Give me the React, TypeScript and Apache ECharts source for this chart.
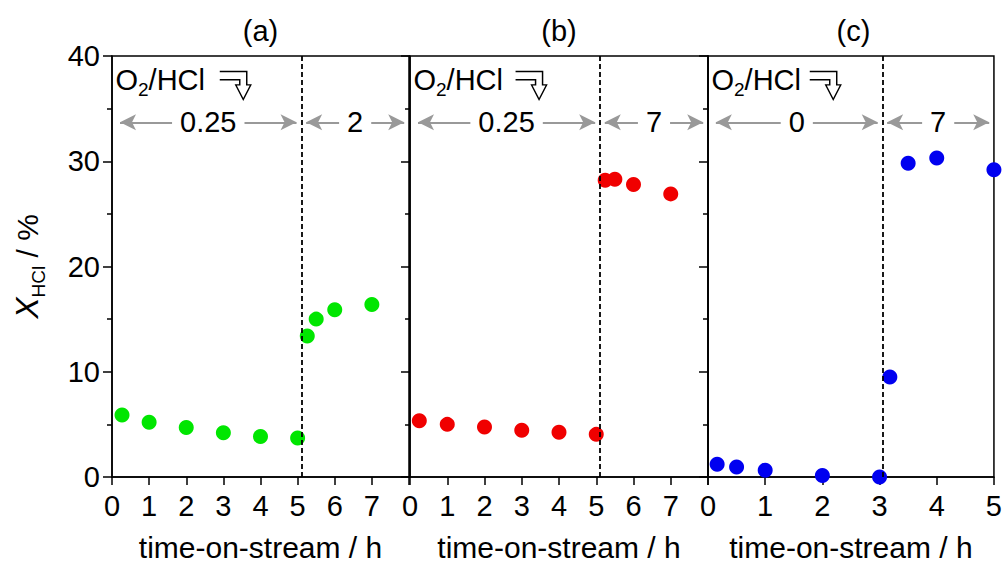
import React, { useEffect, useRef } from 'react';
import * as echarts from 'echarts';

// ---- data ----
const panelTitles = ['(a)', '(b)', '(c)'];
const xMaxes = [8, 8, 5];
const switchTimes = [5.1, 5.1, 3.05];
const ratioBefore = ['0.25', '0.25', '0'];
const ratioAfter = ['2', '7', '7'];
const yTickMax = 40;
const yTickStep = 10;

const timeA = [0.27, 1, 2, 3, 4, 5, 5.26, 5.5, 6, 7];
const convA = [5.9, 5.2, 4.7, 4.2, 3.85, 3.7, 13.4, 15.0, 15.9, 16.4];

const timeB = [0.25, 1, 2, 3, 4, 5, 5.24, 5.5, 6, 7];
const convB = [5.35, 5.0, 4.75, 4.45, 4.25, 4.05, 28.2, 28.3, 27.8, 26.9];

const timeC = [0.16, 0.5, 1, 2, 3, 3.18, 3.5, 4, 5];
const convC = [1.2, 0.95, 0.65, 0.15, 0.0, 9.5, 29.8, 30.3, 29.2];

const seriesColors = ['#00e600', '#f00000', '#0000f0'];
const iconX = [3.32, 3.25, 2.05];

const FONT = 'Liberation Sans, Arial, Helvetica, sans-serif';
const gridLefts = [112, 410, 708];
const gridWidths = [297, 298, 291];
const gridTop = 56;
const gridHeight = 426;

const iconPath = 'path://M0,0 L27,0 L27,13 L31,13 L23.5,27 L16,13 L20,13 L20,8 L0,8';

export default function App() {
  const ref = useRef<HTMLDivElement>(null);
  useEffect(() => {
    document.body.style.margin = '0';
    if (!ref.current) return;
    const chart = echarts.init(ref.current, null, { renderer: 'svg' });
    const times = [timeA, timeB, timeC];
    const convs = [convA, convB, convC];

    const grids = [0, 1, 2].map((i) => ({
      left: gridLefts[i],
      top: gridTop,
      width: gridWidths[i],
      height: gridHeight,
      show: true,
      borderColor: '#000',
      borderWidth: 1.5,
      backgroundColor: 'transparent',
    }));

    const xAxes = [0, 1, 2].map((i) => ({
      gridIndex: i,
      type: 'value',
      min: 0,
      max: xMaxes[i],
      interval: 1,
      axisLine: { show: true, onZero: false, lineStyle: { color: '#000', width: 1.5 } },
      axisTick: { show: true, length: 8, lineStyle: { color: '#000', width: 1.5 } },
      splitLine: { show: false },
      axisLabel: {
        fontSize: 29,
        fontFamily: FONT,
        color: '#000',
        margin: 14,
        formatter: (v: number) => (i < 2 && v === xMaxes[i] ? '' : String(v)),
      },
      name: 'time-on-stream / h',
      nameLocation: 'middle',
      nameGap: 55,
      nameTextStyle: { fontSize: 30, fontFamily: FONT, color: '#000' },
    }));

    const yAxes = [0, 1, 2].map((i) => ({
      gridIndex: i,
      type: 'value',
      min: 0,
      max: yTickMax,
      interval: yTickStep,
      axisLine: { show: true, onZero: false, lineStyle: { color: '#000', width: 1.5 } },
      axisTick: { show: true, length: 9, lineStyle: { color: '#000', width: 1.5 } },
      minorTick: { show: true, splitNumber: 2, length: 5, lineStyle: { color: '#000', width: 1.5 } },
      splitLine: { show: false },
      minorSplitLine: { show: false },
      axisLabel: { show: i === 0, fontSize: 29, fontFamily: FONT, color: '#000', margin: 12 },
      name: i === 0 ? '{i|X}{s|HCl}{n| / %}' : '',
      nameLocation: 'middle',
      nameGap: 64,
      nameTextStyle: {
        color: '#000',
        fontFamily: FONT,
        rich: {
          i: { fontStyle: 'italic', fontSize: 32, fontFamily: FONT, color: '#000' },
          s: { fontSize: 19, lineHeight: 42, verticalAlign: 'bottom', fontFamily: FONT, color: '#000' },
          n: { fontSize: 30, fontFamily: FONT, color: '#000' },
        },
      },
    }));

    const series: any[] = [];
    [0, 1, 2].forEach((i) => {
      const data = times[i].map((t, k) => [t, convs[i][k]]);
      const unit = gridWidths[i] / xMaxes[i];
      const inset = 8 / unit;
      const arrowY = 33.7;
      series.push({
        type: 'scatter',
        xAxisIndex: i,
        yAxisIndex: i,
        data,
        symbol: 'circle',
        symbolSize: 15,
        itemStyle: { color: seriesColors[i], opacity: 1 },
        markLine: {
          silent: true,
          symbol: ['none', 'none'],
          label: { show: false },
          lineStyle: { type: [5, 3], color: '#000', width: 1.8 },
          data: [{ xAxis: switchTimes[i] }],
        },
      });
      series.push({
        type: 'scatter',
        xAxisIndex: i,
        yAxisIndex: i,
        data: [],
        markLine: {
          silent: true,
          symbol: ['arrow', 'arrow'],
          symbolSize: [12, 16],
          lineStyle: { type: 'solid', color: '#999999', width: 2.2 },
          label: {
            show: true,
            position: 'middle',
            formatter: '{b}',
            color: '#000',
            fontSize: 29,
            fontFamily: FONT,
            backgroundColor: '#ffffff',
            padding: [2, 8],
            distance: 0,
            verticalAlign: 'middle',
          },
          data: [
            [
              { name: ratioBefore[i], coord: [inset, arrowY] },
              { coord: [switchTimes[i] - inset * 0.6, arrowY] },
            ],
            [
              { name: ratioAfter[i], coord: [switchTimes[i] + inset * 0.6, arrowY] },
              { coord: [xMaxes[i] - inset * 0.6, arrowY] },
            ],
          ],
        },
        markPoint: {
          silent: true,
          data: [
            {
              coord: [0, 37.7],
              symbol: 'circle',
              symbolSize: 1,
              itemStyle: { color: 'rgba(0,0,0,0)' },
              label: {
                show: true,
                position: 'right',
                distance: 3,
                formatter: '{t|O}{s|2}{t|/HCl}',
                rich: {
                  t: { fontSize: 29, fontFamily: FONT, color: '#000' },
                  s: { fontSize: 19, lineHeight: 38, verticalAlign: 'bottom', fontFamily: FONT, color: '#000' },
                },
              },
            },
            {
              coord: [iconX[i], 37.2],
              symbol: iconPath,
              symbolSize: [31, 28],
              symbolKeepAspect: false,
              itemStyle: { color: '#ffffff', borderColor: '#000', borderWidth: 1.4 },
              label: { show: false },
            },
          ],
        },
      });
    });

    const titles = [0, 1, 2].map((i) => ({
      text: panelTitles[i],
      left: gridLefts[i] + gridWidths[i] / 2,
      top: 16,
      textAlign: 'center',
      padding: 0,
      textStyle: { fontSize: 29, fontWeight: 'normal', fontFamily: FONT, color: '#000' },
    }));

    chart.setOption({
      animation: false,
      backgroundColor: '#ffffff',
      title: titles,
      grid: grids,
      xAxis: xAxes,
      yAxis: yAxes,
      series,
    });
    return () => chart.dispose();
  }, []);
  return <div ref={ref} style={{ width: 1005, height: 567 }} />;
}
